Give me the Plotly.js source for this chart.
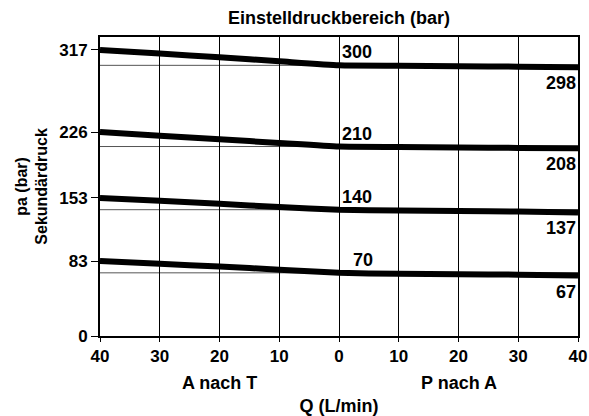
<!DOCTYPE html>
<html>
<head>
<meta charset="utf-8">
<script src="https://cdn.plot.ly/plotly-3.0.1.min.js"></script>
<style>html,body{margin:0;padding:0;background:#fff;}#chart{width:589px;height:416px;}</style>
</head>
<body>
<div id="chart"></div>
<script>
// Flow Q (L/min): negative = A nach T, positive = P nach A
const flow = [-40, -30, -20, -10, 0, 10, 20, 30, 40];
const curve300 = [317, 313, 309, 304.5, 300, 299.5, 299, 298.5, 298];
const curve210 = [226, 222, 218, 214, 210, 209.5, 209, 208.5, 208];
const curve140 = [153, 150, 146.5, 143, 140, 139, 138.5, 138, 137];
const curve70  = [83, 80, 77, 73.5, 70, 69, 68.5, 68, 67];
const curves = [curve300, curve210, curve140, curve70];
const setLabels = ["300", "210", "140", "70"];
const setValues = [300, 210, 140, 70];
const endLabels = ["298", "208", "137", "67"];
const yTickVals = [0, 83, 153, 226, 317];
const xTickVals = [-40, -30, -20, -10, 0, 10, 20, 30, 40];
const xTickText = ["40", "30", "20", "10", "0", "10", "20", "30", "40"];

const fam = "'Liberation Sans', Arial, sans-serif";
const font17 = {family: fam, size: 17, color: "#000"};
const font18 = {family: fam, size: 18, color: "#000"};
const font16 = {family: fam, size: 16, color: "#000"};

const traces = curves.map(c => ({
  x: flow, y: c, type: "scatter", mode: "lines",
  line: {color: "#000", width: 6, shape: "spline", smoothing: 0.5},
  hoverinfo: "skip", showlegend: false
}));

const shapes = setValues.map(v => ({
  type: "line", xref: "paper", x0: 0, x1: 1, yref: "y", y0: v, y1: v,
  line: {color: "#555", width: 1}, layer: "below"
}));

const annotations = [];
setLabels.forEach((t, i) => {
  annotations.push({x: 0, y: setValues[i], xref: "x", yref: "y", text: "<b>" + t + "</b>",
    showarrow: false, xanchor: "left", yanchor: "bottom", xshift: (i === 3 ? 12 : 1), yshift: 1, font: font18});
});
endLabels.forEach((t, i) => {
  annotations.push({x: 40, y: curves[i][curves[i].length - 1], xref: "x", yref: "y", text: "<b>" + t + "</b>",
    showarrow: false, xanchor: "right", yanchor: "top", xshift: 0, yshift: -4, font: font18});
});
annotations.push({x: -20, y: 0, xref: "x", yref: "paper", text: "<b>A nach T</b>", showarrow: false,
  yanchor: "middle", yshift: -47, font: font18});
annotations.push({x: 20, y: 0, xref: "x", yref: "paper", text: "<b>P nach A</b>", showarrow: false,
  yanchor: "middle", yshift: -47, font: font18});
annotations.push({x: -0.144, y: 0.5, xref: "paper", yref: "paper", xanchor: "center", yanchor: "middle",
  text: "<b>pa (bar)<br>Sekundärdruck</b>", showarrow: false, textangle: -90, font: font16});

const layout = {
  width: 589, height: 416,
  margin: {l: 100, r: 11, t: 37, b: 80},
  paper_bgcolor: "#fff", plot_bgcolor: "#fff",
  font: font17,
  title: {text: "<b>Einstelldruckbereich (bar)</b>", x: 0.5, xref: "paper", y: 1 - 18 / 416, yref: "container",
    xanchor: "center", yanchor: "middle", font: font18},
  xaxis: {
    range: [-40, 40], tickvals: xTickVals, ticktext: xTickText.map(t => "<b>" + t + "</b>"),
    showgrid: true, gridcolor: "#000", gridwidth: 1, zeroline: false,
    showline: true, mirror: true, linecolor: "#000", linewidth: 2,
    ticks: "outside", ticklen: 4, tickcolor: "#000", tickwidth: 1,
    tickfont: font17,
    title: {text: "<b>Q (L/min)</b>", standoff: 38, font: font18},
    fixedrange: true
  },
  yaxis: {
    range: [0, 331.4], tickvals: yTickVals, ticktext: yTickVals.map(v => "<b>" + v + "</b>"),
    showgrid: false, zeroline: false,
    showline: true, mirror: true, linecolor: "#000", linewidth: 2,
    ticks: "outside", ticklen: 7, tickcolor: "#000", tickwidth: 1,
    tickfont: font17,
    fixedrange: true
  },
  shapes: shapes,
  annotations: annotations,
  showlegend: false
};

Plotly.newPlot("chart", traces, layout, {displayModeBar: false, staticPlot: true});
</script>
</body>
</html>
